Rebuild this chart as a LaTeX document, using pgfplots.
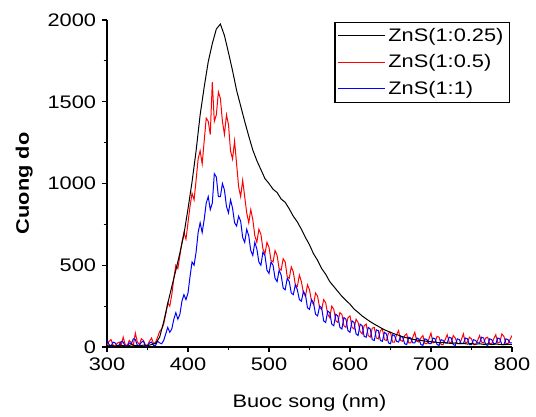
\documentclass[border=0pt]{standalone}
\usepackage{pgfplots}
\pgfplotsset{compat=1.18}
\usepackage{pgfplotstable}
\usepackage{fontspec}
\setmainfont{Liberation Sans}[FakeStretch=1.2]

% ZnS(1:0.25)
\pgfplotstableread{
x y
300 6
305 10
310 4
315 12
320 8
325 5
330 14
335 9
340 6
345 12
350 8
355 15
360 22
365 60
370 155
375 265
380 370
385 470
390 575
395 690
400 845
405 1010
410 1200
415 1420
420 1590
425 1745
430 1855
435 1945
440 1975
445 1905
450 1800
455 1690
460 1570
465 1475
470 1380
475 1290
480 1205
485 1140
490 1085
495 1030
500 1000
505 965
510 945
515 905
520 885
525 845
530 800
535 765
540 720
545 670
550 625
555 570
560 530
565 480
570 445
575 400
580 370
585 340
590 310
595 285
600 262
605 232
610 212
615 190
620 172
625 155
630 140
635 126
640 112
645 100
650 90
655 80
660 72
665 63
670 56
675 50
680 45
685 41
690 38
695 35
700 32
705 30
710 26
715 28
720 24
725 22
730 25
735 20
740 22
745 18
750 21
755 17
760 20
765 16
770 19
775 15
780 18
785 16
790 14
795 17
800 15
}\tblack

% ZnS(1:0.5)
\pgfplotstableread{
x y
300 10
302.5 35
305 45
307.5 12
310 5
312.5 22
315 30
317.5 8
320 60
322.5 15
325 8
327.5 40
330 25
332.5 10
335 85
337.5 30
340 15
342.5 50
345 40
347.5 12
350 10
352.5 35
355 55
357.5 20
360 30
362.5 60
365 95
367.5 110
370 140
372.5 200
375 270
377.5 250
380 320
382.5 420
385 500
387.5 480
390 560
392.5 640
395 700
397.5 660
400 760
402.5 860
405 940
407.5 900
410 1020
412.5 1150
415 1200
417.5 1120
420 1260
422.5 1400
425 1380
427.5 1300
430 1620
432.5 1380
435 1420
437.5 1560
440 1520
442.5 1380
445 1300
447.5 1420
450 1360
452.5 1200
455 1150
457.5 1260
460 1120
462.5 980
465 920
467.5 1020
470 920
472.5 820
475 760
477.5 840
480 780
482.5 680
485 640
487.5 720
490 690
492.5 600
495 570
497.5 640
500 610
502.5 530
505 520
507.5 590
510 560
512.5 480
515 470
517.5 540
520 520
522.5 430
525 420
527.5 490
530 460
532.5 380
535 370
537.5 440
540 400
542.5 330
545 310
547.5 380
550 350
552.5 280
555 260
557.5 330
560 310
562.5 240
565 230
567.5 290
570 270
572.5 200
575 180
577.5 250
580 230
582.5 160
585 150
587.5 210
590 200
592.5 130
595 120
597.5 180
600 190
602.5 120
605 110
607.5 170
610 150
612.5 95
615 80
617.5 130
620 140
622.5 70
625 60
627.5 115
630 120
632.5 55
635 50
637.5 100
640 110
642.5 45
645 40
647.5 85
650 90
652.5 30
655 30
657.5 75
660 100
662.5 40
665 35
667.5 70
670 80
672.5 25
675 25
677.5 60
680 90
682.5 35
685 30
687.5 55
690 70
692.5 20
695 20
697.5 50
700 85
702.5 25
705 30
707.5 65
710 60
712.5 15
715 15
717.5 45
720 75
722.5 30
725 25
727.5 70
730 55
732.5 20
735 20
737.5 45
740 80
742.5 25
745 30
747.5 60
750 50
752.5 15
755 15
757.5 40
760 70
762.5 30
765 25
767.5 55
770 60
772.5 20
775 20
777.5 50
780 75
782.5 25
785 30
787.5 80
790 65
792.5 20
795 20
797.5 45
800 70
}\tred

% ZnS(1:1)
\pgfplotstableread{
x y
300 40
302.5 15
305 5
307.5 30
310 25
312.5 8
315 10
317.5 35
320 30
322.5 5
325 5
327.5 25
330 20
332.5 50
335 45
337.5 10
340 10
342.5 30
345 35
347.5 5
350 5
352.5 25
355 30
357.5 8
360 10
362.5 35
365 25
367.5 20
370 40
372.5 80
375 120
377.5 90
380 110
382.5 170
385 210
387.5 170
390 200
392.5 280
395 320
397.5 290
400 330
402.5 430
405 520
407.5 500
410 580
412.5 700
415 760
417.5 700
420 780
422.5 880
425 920
427.5 840
430 880
432.5 1060
435 1040
437.5 920
440 920
442.5 1000
445 960
447.5 860
450 820
452.5 900
455 850
457.5 760
460 740
462.5 800
465 770
467.5 670
470 640
472.5 720
475 680
477.5 590
480 560
482.5 640
485 600
487.5 520
490 500
492.5 580
495 560
497.5 470
500 450
502.5 520
505 500
507.5 420
510 400
512.5 470
515 440
517.5 360
520 350
522.5 420
525 400
527.5 330
530 320
532.5 380
535 350
537.5 290
540 280
542.5 340
545 320
547.5 240
550 230
552.5 290
555 270
557.5 200
560 190
562.5 250
565 240
567.5 160
570 150
572.5 220
575 210
577.5 140
580 130
582.5 200
585 190
587.5 120
590 110
592.5 180
595 170
597.5 100
600 90
602.5 160
605 150
607.5 80
610 70
612.5 140
615 130
617.5 65
620 60
622.5 120
625 110
627.5 45
630 40
632.5 105
635 100
637.5 40
640 35
642.5 90
645 80
647.5 25
650 20
652.5 75
655 70
657.5 35
660 30
662.5 65
665 60
667.5 20
670 15
672.5 60
675 55
677.5 25
680 25
682.5 55
685 50
687.5 15
690 10
692.5 50
695 45
697.5 20
700 20
702.5 55
705 50
707.5 15
710 10
712.5 45
715 40
717.5 25
720 25
722.5 60
725 55
727.5 15
730 10
732.5 50
735 45
737.5 20
740 20
742.5 55
745 50
747.5 15
750 15
752.5 45
755 40
757.5 25
760 25
762.5 60
765 55
767.5 15
770 10
772.5 50
775 45
777.5 20
780 20
782.5 55
785 50
787.5 15
790 15
792.5 50
795 45
797.5 25
800 25
}\tblue

\begin{document}
\begin{tikzpicture}
\begin{axis}[
  scale only axis,
  width=243pt, height=196.2pt,
  xmin=300, xmax=800, ymin=0, ymax=2000,
  axis x line*=bottom, axis y line*=left,
  axis line style={line width=0.8pt},
  tick align=outside,
  major tick length=3pt, minor tick length=2pt,
  every tick/.style={black, line width=0.7pt},
  xtick={300,400,...,800}, ytick={0,500,...,2000},
  minor x tick num=1, minor y tick num=1,
  scaled ticks=false,
  /pgf/number format/assume math mode=true,
  /pgf/number format/1000 sep={},
  tick label style={font=\fontsize{10.9}{13}\selectfont},
  xlabel={Buoc song (nm)},
  ylabel={\bfseries Cuong do},
  label style={font=\fontsize{10.9}{13}\selectfont},
  xlabel style={yshift=-7pt},
  ylabel style={yshift=2pt},
  legend style={at={(0.995,0.995)}, anchor=north east, draw=black,
    line width=0.8pt, font=\fontsize{10.9}{13}\selectfont,
    row sep=2.5pt, inner sep=1.5pt},
  legend cell align=left,
  legend image code/.code={\draw[#1, line width=0.6pt] (0pt,0pt) -- (28pt,0pt);},
]
\addlegendimage{draw=black}
\addlegendentry{ZnS(1:0.25)}
\addlegendimage{draw=red}
\addlegendentry{ZnS(1:0.5)}
\addlegendimage{draw=blue}
\addlegendentry{ZnS(1:1)}
\addplot[red, line width=0.6pt, forget plot] table[x=x, y=y] {\tred};
\addplot[blue, line width=0.6pt, forget plot] table[x=x, y=y] {\tblue};
\addplot[black, line width=0.6pt, forget plot] table[x=x, y=y] {\tblack};
\end{axis}
\pgfresetboundingbox
\path (-64.2pt,-41.4pt) rectangle (257.4pt,208.2pt);
\end{tikzpicture}
\end{document}
